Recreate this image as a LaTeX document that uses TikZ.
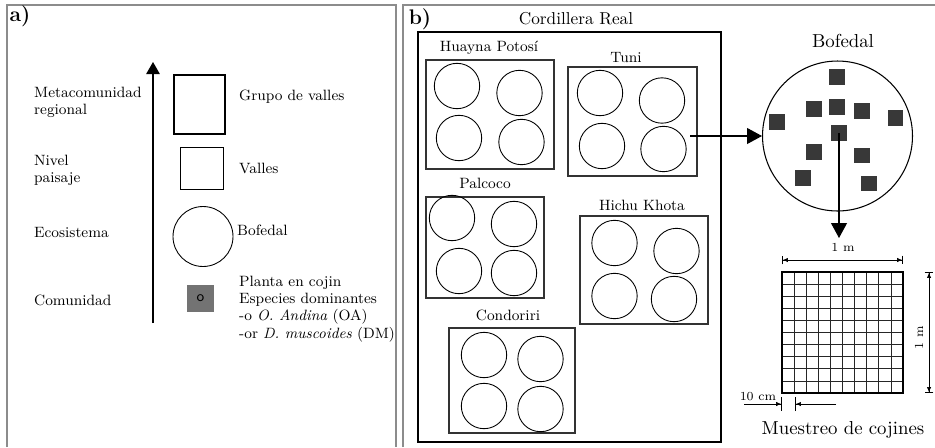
\documentclass[tikz,border=0pt]{standalone}
\usetikzlibrary{arrows.meta}
\begin{document}
\begin{tikzpicture}[x=0.02cm,y=-0.02cm,
  every node/.style={font=\fontsize{8.5}{9.8}\selectfont},
  panel/.style={draw=black!45,line width=0.85pt},
  valle/.style={draw=black!80,line width=0.75pt},
  bof/.style={circle,draw,line width=0.5pt,minimum size=0.908cm,inner sep=0pt},
  cojin/.style={fill=black!78,minimum size=0.31cm,inner sep=0pt},
  dim/.style={line width=0.4pt,{Bar[width=5pt]Latex[length=3pt,width=2.5pt]}-{Latex[length=3pt,width=2.5pt]Bar[width=5pt]}},
  small/.style={font=\fontsize{7}{8}\selectfont},
  big/.style={font=\fontsize{10.7}{12}\selectfont}]

\useasboundingbox (0,0) rectangle (935,447);

% panels
\draw [panel] (7,447) -- (7,5) -- (396,5) -- (396,447);
\draw [panel] (403,447) -- (403,5) -- (935,5);

\node (la) at (20,16) {\fontsize{12}{14}\selectfont\bfseries a)};
\node (lb) at (420,19) {\fontsize{12}{14}\selectfont\bfseries b)};

%% a) niveles
\coordinate (abot) at (153,323);
\coordinate (atop) at (153,62);
\draw [line width=0.6pt,-{Triangle[length=0.24cm,width=0.27cm]}] (abot) -- (atop);

\node [anchor=west,align=left] (meta) at (28,102) {Metacomunidad\\regional};
\node [anchor=west,align=left] (nivel) at (28,170.5) {Nivel\\paisaje};
\node [anchor=west] (eco) at (28,232) {Ecosistema};
\node [anchor=west] (com) at (28,300) {Comunidad};

\draw [line width=0.9pt] (174,75) rectangle (225,134);
\draw [line width=0.45pt] (180,147) rectangle (223,189);
\node [circle,draw,line width=0.5pt,minimum size=1.2cm,inner sep=0pt] (abof) at (203,236.5) {};
\node [fill=black!55,minimum size=0.54cm,inner sep=0pt,font=\sffamily\fontsize{8.5}{9}\selectfont] (acoj) at (200.5,298.5) {o};

\node [anchor=west] (grupo) at (233,97) {Grupo de valles};
\node [anchor=west] (valles) at (233,168) {Valles};
\node [anchor=west] (bofa) at (231,230) {Bofedal};
\node [anchor=west,align=left] (planta) at (233,309)
  {Planta en cojin\\Especies dominantes\\-o \textit{O. Andina} (OA)\\-or \textit{D. muscoides} (DM)};

%% b) Cordillera Real
\node [font=\fontsize{9.8}{11}\selectfont] (cord) at (576,19) {Cordillera Real};
\draw [line width=0.65pt] (418,32) rectangle (721,442);

% Huayna Potosi
\node (hp) at (489,48) {Huayna Potos\'{\i}};
\draw [valle] (426,60) rectangle (554,169);
\node [bof] (hp1) at (457,86) {};
\node [bof] (hp2) at (519.5,93) {};
\node [bof] (hp3) at (459,138) {};
\node [bof] (hp4) at (521.5,142) {};

% Tuni
\node (tuni) at (626,58) {Tuni};
\draw [valle] (568,67) rectangle (697,176);
\node [bof] (tu1) at (600,93) {};
\node [bof] (tu2) at (662,100.5) {};
\node [bof] (tu3) at (602,146) {};
\node [bof] (tu4) at (663.5,149) {};

% Palcoco
\node (pal) at (485,183) {Palcoco};
\draw [valle] (426,197) rectangle (544,298);
\node [bof] (pa1) at (452,218) {};
\node [bof] (pa2) at (514,224) {};
\node [bof] (pa3) at (459,271) {};
\node [bof] (pa4) at (514,273) {};

% Hichu Khota
\node (hk) at (642,205) {Hichu Khota};
\draw [valle] (580,216) rectangle (708,324);
\node [bof] (hk1) at (614.5,243) {};
\node [bof] (hk2) at (676.5,251) {};
\node [bof] (hk3) at (614.5,296) {};
\node [bof] (hk4) at (674,299) {};

% Condoriri
\node (con) at (508,315) {Condoriri};
\draw [valle] (449,328) rectangle (575,433);
\node [bof] (co1) at (484,355) {};
\node [bof] (co2) at (540.5,359) {};
\node [bof] (co3) at (484,406) {};
\node [bof] (co4) at (540.5,409) {};

%% Bofedal
\node [big] (bofl) at (843,41) {Bofedal};
\node [circle,draw,line width=0.6pt,minimum size=3cm,inner sep=0pt] (bofb) at (837.5,136) {};
\node [cojin] (s1) at (837,77) {};
\node [cojin] (s2) at (814,109) {};
\node [cojin] (s3) at (837,107) {};
\node [cojin] (s4) at (862,111) {};
\node [cojin] (s5) at (777,122) {};
\node [cojin] (s6) at (895.5,118) {};
\node [cojin] (s7) at (839,133) {};
\node [cojin] (s8) at (814,152) {};
\node [cojin] (s9) at (862,155.5) {};
\node [cojin] (s10) at (803,178) {};
\node [cojin] (s11) at (869,183.5) {};

\coordinate (tusal) at (690,136);
\draw [line width=0.6pt,-{Triangle[length=0.3cm,width=0.32cm]}] (tusal) -- (bofb.west);

\coordinate (cuad) at (839,238);
\draw [line width=0.6pt,-{Triangle[length=0.3cm,width=0.32cm]}] (s7.center) -- (cuad);

%% Cuadrante
\begin{scope}[shift={(782,393)}]
\draw [black!85,line width=0.45pt,step=0.242cm] (0,0) grid (121,-121);
\end{scope}
\draw [line width=0.65pt] (782,272) rectangle (903,393);

\coordinate (dtl) at (782,260);
\coordinate (dtr) at (903,260);
\draw [dim] (dtl) -- (dtr);
\node [small] (m1) at (843,247) {1 m};

\coordinate (drt) at (929,272);
\coordinate (drb) at (929,393);
\draw [dim] (drt) -- (drb);
\node [small,rotate=90] (m2) at (919,338) {1 m};

\node [small] (cm) at (758,397) {10 cm};
\coordinate (cma) at (744,404);
\coordinate (cmb) at (782,404);
\coordinate (cmc) at (836,404);
\coordinate (cmd) at (795,404);
\draw [line width=0.4pt,-{Latex[length=3pt,width=2.5pt]Bar[width=8pt]}] (cma) -- (cmb);
\draw [line width=0.4pt,-{Latex[length=3pt,width=2.5pt]Bar[width=8pt]}] (cmc) -- (cmd);

\node [big] (mues) at (843,430) {Muestreo de cojines};

\end{tikzpicture}
\end{document}
